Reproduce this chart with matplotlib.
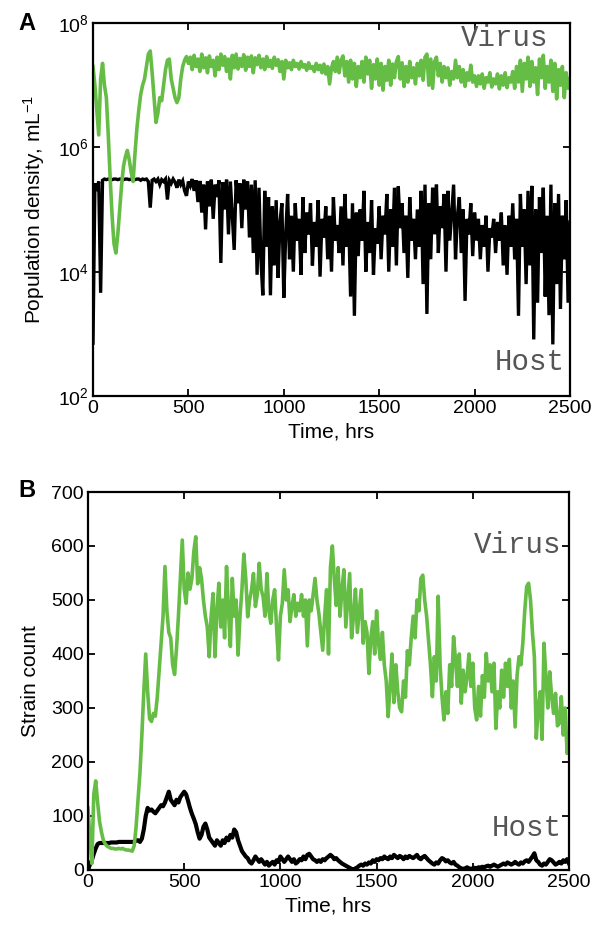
import numpy as np
import matplotlib
matplotlib.use("Agg")
import matplotlib.pyplot as plt
from matplotlib.ticker import FixedLocator, NullLocator, LogFormatterSciNotation

plt.rcParams['font.family'] = ['Liberation Sans', 'DejaVu Sans']
plt.rcParams['mathtext.fontset'] = 'custom'
plt.rcParams['mathtext.rm'] = 'Liberation Sans'
plt.rcParams['mathtext.it'] = 'Liberation Sans:italic'

# ---------------- data (10-hr sampling) ----------------
# Panel A: log10 population density
virus_density_log10 = [
    7.30, 7.00, 6.60, 6.20, 7.10, 7.35, 7.00, 6.80, 6.20, 5.50,
    4.90, 4.45, 4.30, 4.60, 5.00, 5.40, 5.70, 5.85, 5.95, 5.80,
    5.60, 5.45, 5.90, 6.30, 6.60, 6.85, 7.00, 7.10, 7.30, 7.50,
    7.55, 7.20, 6.80, 6.40, 6.55, 6.80, 6.75, 7.00, 7.25, 7.40,
    7.42, 7.10, 6.95, 6.80, 6.72, 6.80, 7.10, 7.30, 7.40, 7.46,
    7.35,
    7.45, 7.25, 7.48, 7.30, 7.42, 7.22, 7.50, 7.28, 7.44, 7.20,
    7.47, 7.30, 7.40, 7.15, 7.45, 7.25, 7.50, 7.32, 7.46, 7.22,
    7.42, 7.10, 7.48, 7.28, 7.50, 7.26, 7.43, 7.30, 7.49, 7.24,
    7.45, 7.30, 7.47, 7.20, 7.44, 7.33, 7.48, 7.28, 7.42, 7.25,
    7.46, 7.30, 7.40, 7.27, 7.45, 7.32, 7.41, 7.22, 7.38, 7.10,
    7.40, 7.28, 7.36, 7.25, 7.40, 7.30, 7.35, 7.26, 7.38, 7.29,
    7.33, 7.24, 7.36, 7.27, 7.30, 7.22, 7.35, 7.25, 7.32, 7.20,
    7.34, 7.18, 7.30, 7.02, 7.28, 7.38, 7.22, 7.45, 7.20, 7.40,
    7.47, 7.15, 7.38, 7.05, 7.40, 7.10, 7.35, 6.98, 7.30, 7.12,
    7.38, 7.05, 7.45, 7.18, 7.40, 6.95, 7.33, 7.10, 7.42, 7.00,
    7.35, 6.92, 7.30, 7.08, 7.40, 7.00, 7.34, 7.12, 7.38, 7.46,
    7.10, 7.36, 6.98, 7.30, 7.05, 7.38, 7.12, 7.28, 7.02, 7.35,
    7.15, 7.40, 7.08, 7.45, 7.50, 7.00, 7.42, 6.95, 7.38, 7.45,
    7.15, 7.35, 7.05, 7.30, 7.12, 7.28, 7.00, 7.22, 7.10, 7.40,
    7.12, 7.30, 7.05, 7.25, 6.98, 7.20, 7.08, 7.32, 7.05, 7.15,
    6.98, 7.15, 7.02, 7.18, 6.95, 7.12, 7.05, 7.20, 6.97, 7.10,
    7.02, 7.18, 6.94, 7.15, 7.00, 7.20, 6.96, 7.12, 7.05, 7.22,
    6.95, 7.30, 7.05, 7.40, 6.90, 7.35, 7.10, 7.45, 6.98, 7.38,
    7.05, 7.28, 6.85, 7.42, 7.12, 7.48, 6.95, 7.30, 7.05, 7.40,
    6.90, 7.35, 6.78, 7.25, 7.00, 7.30, 6.80, 7.20, 6.95, 7.10,
]

host_density_log10 = [
    2.85, 5.42, 5.30, 5.45, 3.66, 5.47, 5.49, 5.48, 5.49, 5.49,
    5.48, 5.49, 5.49, 5.48, 5.49, 5.49, 5.48, 5.49, 5.49, 5.48,
    5.49, 5.49, 5.48, 5.49, 5.49, 5.47, 5.49, 5.48, 5.49, 5.45,
    5.03, 5.47, 5.49, 5.45, 5.49, 5.40, 5.48, 5.45, 5.49, 5.16,
    5.47, 5.42, 5.49, 5.44, 5.35, 5.48, 5.40, 5.46, 5.30, 5.22,
    5.45,
    5.38, 5.49, 5.30, 5.47, 5.12, 5.46, 4.95, 5.40, 4.68, 5.45,
    5.05, 5.48, 4.85, 5.40, 5.20, 5.47, 4.14, 5.44, 5.00, 5.48,
    4.60, 5.45, 4.90, 4.35, 5.47, 5.10, 5.42, 4.70, 5.48, 5.00,
    5.45, 4.55, 5.40, 4.30, 5.47, 3.95, 5.35, 4.20, 3.62, 5.30,
    4.40, 5.20, 3.62, 5.05, 4.10, 5.15, 3.90, 4.80, 5.10, 3.58,
    4.60, 5.25, 4.20, 4.90, 4.00, 5.10, 4.50, 4.85, 3.95, 5.20,
    4.30, 4.95, 4.60, 5.10, 4.10, 4.80, 4.40, 5.15, 3.92, 4.85,
    4.55, 5.05, 4.20, 4.90, 4.00, 5.20, 4.50, 4.75, 4.30, 5.05,
    4.10, 5.25, 4.40, 4.85, 3.60, 5.10, 3.29, 4.95, 4.25, 5.00,
    4.50, 5.30, 4.00, 4.80, 4.30, 5.15, 3.95, 4.70, 4.45, 5.05,
    4.20, 4.90, 4.60, 5.25, 4.00, 5.00, 4.40, 5.35, 4.10, 5.37,
    4.70, 5.10, 4.30, 4.90, 3.90, 5.20, 4.50, 4.85, 4.20, 5.00,
    4.40, 5.30, 3.80, 5.40, 3.32, 5.10, 4.20, 5.35, 4.60, 5.40,
    4.30, 5.05, 4.70, 5.25, 4.00, 5.30, 4.50, 4.95, 5.40, 4.20,
    4.90, 5.20, 4.30, 5.00, 3.53, 4.85, 4.60, 5.10, 4.25, 4.95,
    4.50, 4.85, 4.20, 4.75, 4.40, 4.90, 4.00, 4.70, 4.55, 4.85,
    4.30, 4.80, 4.50, 4.95, 4.10, 4.75, 3.95, 4.90, 4.40, 5.10,
    4.20, 4.85, 3.29, 5.25, 4.40, 5.00, 3.80, 5.30, 4.10, 5.38,
    2.91, 5.00, 3.50, 5.20, 4.30, 5.35, 3.60, 4.90, 3.30, 5.40,
    2.83, 5.10, 3.80, 5.25, 3.40, 4.90, 4.20, 5.15, 3.50, 4.80,
]

# Panel B: strain counts
virus_strains = [
    115, 60, 12, 140, 165, 125, 90, 70, 55, 48,
    44, 42, 40, 40, 39, 39, 40, 39, 40, 38,
    37, 37, 36, 35, 45, 80, 130, 180, 250, 330,
    400, 330, 280, 275, 290, 285, 320, 370, 420, 470,
    562, 480, 440, 430, 380, 362, 410, 470, 540, 611,
    520, 494, 550, 520, 540, 590, 617, 530, 560, 540,
    500, 470, 450, 395, 470, 512, 395, 480, 531, 450,
    500, 430, 562, 480, 414, 540, 470, 500, 398, 470,
    519, 585, 540, 469, 500, 519, 549, 488, 510, 568,
    520, 506, 470, 549, 480, 457, 500, 519, 450, 389,
    470, 494, 556, 500, 519, 460, 488, 510, 470, 494,
    480, 510, 470, 500, 415, 500, 480, 510, 540, 500,
    475, 440, 407, 470, 519, 400, 560, 600, 540, 490,
    560, 470, 520, 556, 450, 500, 549, 430, 470, 520,
    440, 480, 519, 420, 460, 440, 364, 430, 460, 400,
    480, 420, 390, 440, 380, 350, 284, 340, 400, 310,
    380, 330, 300, 293, 350, 320, 406, 380, 430, 470,
    430, 500, 480, 540, 546, 500, 470, 426, 380, 321,
    395, 350, 507, 380, 320, 278, 330, 290, 380, 340,
    432, 390, 340, 400, 309, 370, 330, 358, 400, 340,
    383, 300, 278, 340, 285, 360, 320, 401, 350, 380,
    330, 383, 262, 330, 300, 370, 320, 383, 340, 390,
    300, 350, 265, 360, 395, 380, 420, 480, 525, 531,
    500, 440, 395, 244, 300, 330, 242, 420, 358, 300,
    367, 320, 290, 327, 267, 272, 321, 250, 300, 216,
    250,
]

host_strains = [
    0, 10, 18, 30, 40, 48, 50, 50, 50, 50,
    50, 50, 51, 51, 51, 51, 52, 52, 52, 52,
    52, 52, 52, 52, 52, 55, 55, 52, 58, 75,
    100, 115, 110, 112, 108, 105, 110, 115, 120, 118,
    125, 135, 145, 130, 125, 120, 130, 125, 135, 140,
    145, 140, 128, 115, 104, 95, 85, 70, 58, 65,
    80, 86, 75, 60, 55, 50, 45, 55, 50, 45,
    55, 50, 60, 55, 65, 60, 75, 70, 55, 45,
    35, 30, 25, 22, 15, 12, 18, 25, 20, 15,
    20, 15, 10, 15, 8, 12, 15, 10, 18, 15,
    25, 20, 15, 20, 25, 20, 15, 20, 12, 15,
    20, 18, 25, 20, 28, 30, 25, 20, 18, 15,
    18, 15, 20, 18, 22, 25, 28, 25, 20, 22,
    18, 15, 12, 10, 8, 6, 4, 2, 1, 3,
    5, 8, 10, 8, 12, 10, 14, 12, 18, 15,
    20, 18, 22, 20, 25, 22, 20, 25, 22, 28,
    25, 22, 26, 24, 20, 25, 22, 26, 24, 22,
    25, 28, 22, 20, 24, 26, 22, 18, 15, 12,
    10, 14, 12, 18, 22, 20, 16, 18, 14, 12,
    15, 10, 8, 5, 3, 2, 3, 5, 3, 2,
    3, 4, 3, 5, 4, 6, 5, 7, 8, 6,
    8, 10, 8, 6, 8, 10, 12, 10, 14, 12,
    10, 12, 15, 12, 10, 14, 12, 16, 18, 15,
    20, 25, 31, 18, 15, 10, 8, 12, 10, 15,
    20, 18, 14, 10, 12, 15, 12, 18, 15, 20,
    12,
]

x_ticks = [0, 500, 1000, 1500, 2000, 2500]
density_ticks = [1e2, 1e4, 1e6, 1e8]
strain_ticks = [0, 100, 200, 300, 400, 500, 600, 700]

GREEN = '#66bd45'
TXT_GRAY = '#555555'
MONO = ['Liberation Mono', 'DejaVu Sans Mono']

def hours(series):
    return np.arange(len(series)) * 10.0

fig = plt.figure(figsize=(6.02, 9.30), dpi=100)

def style(ax):
    for s in ax.spines.values():
        s.set_linewidth(1.6)
    ax.tick_params(direction='in', top=True, right=True, length=5, width=1.3,
                   labelsize=14, pad=3)
    ax.set_xlim(0, 2500)
    ax.xaxis.set_major_locator(FixedLocator(x_ticks))

# ---------------- Panel A ----------------
axA = fig.add_axes([93/602, 1 - 396/930, 477/602, 373/930])
axA.plot(hours(host_density_log10), 10 ** np.array(host_density_log10),
         color='black', lw=2.4, solid_joinstyle='miter')
axA.plot(hours(virus_density_log10), 10 ** np.array(virus_density_log10),
         color=GREEN, lw=2.6)
axA.set_yscale('log')
axA.set_ylim(1e2, 1e8)
style(axA)
axA.yaxis.set_major_locator(FixedLocator(density_ticks))
axA.yaxis.set_minor_locator(NullLocator())
axA.yaxis.set_major_formatter(LogFormatterSciNotation())
axA.set_xlabel('Time, hrs', fontsize=15, labelpad=4)
axA.set_ylabel('Population density, mL$^{-1}$', fontsize=15, labelpad=8)
axA.text(0.955, 0.96, 'Virus', transform=axA.transAxes, ha='right', va='center',
         family=MONO, fontsize=21, color=TXT_GRAY)
axA.text(0.99, 0.09, 'Host', transform=axA.transAxes, ha='right', va='center',
         family=MONO, fontsize=21, color=TXT_GRAY)
fig.text(18/602, 1 - 24/930, 'A', fontsize=17, fontweight='bold', va='center', ha='left')

# ---------------- Panel B ----------------
axB = fig.add_axes([88/602, 1 - 870/930, 481/602, 378/930])
axB.plot(hours(host_strains), host_strains, color='black', lw=3.0)
axB.plot(hours(virus_strains), virus_strains, color=GREEN, lw=2.6)
axB.set_ylim(0, 700)
style(axB)
axB.yaxis.set_major_locator(FixedLocator(strain_ticks))
axB.set_xlabel('Time, hrs', fontsize=15, labelpad=4)
axB.set_ylabel('Strain count', fontsize=15, labelpad=8)
axB.text(0.985, 0.86, 'Virus', transform=axB.transAxes, ha='right', va='center',
         family=MONO, fontsize=21, color=TXT_GRAY)
axB.text(0.985, 0.11, 'Host', transform=axB.transAxes, ha='right', va='center',
         family=MONO, fontsize=21, color=TXT_GRAY)
fig.text(18/602, 1 - 490/930, 'B', fontsize=17, fontweight='bold', va='center', ha='left')

fig.savefig('out.png', dpi=100)
